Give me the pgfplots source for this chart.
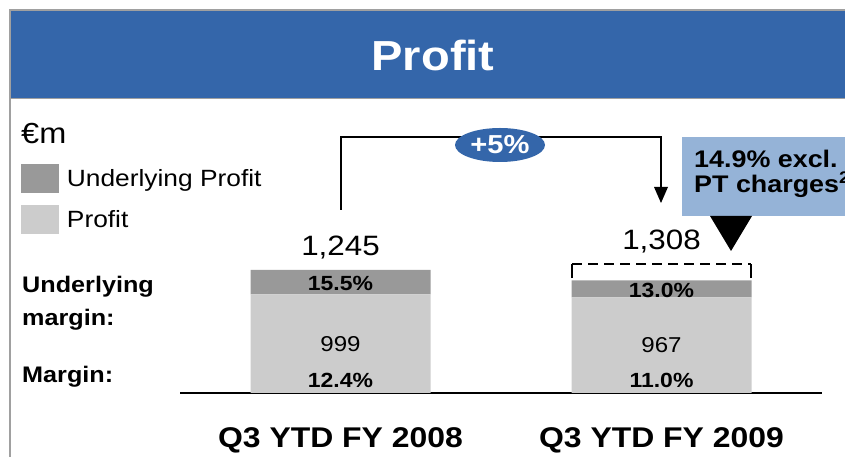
\documentclass[border=0pt]{standalone}
\usepackage{pgfplots}
\pgfplotsset{compat=1.18}
\usepackage{fontspec}
\setmainfont{Liberation Sans}[FakeStretch=1.12]
\usetikzlibrary{arrows.meta}
\definecolor{titleblue}{RGB}{52,102,170}
\definecolor{boxblue}{RGB}{149,179,215}
\definecolor{darkbar}{RGB}{153,153,153}
\definecolor{lightbar}{RGB}{204,204,204}
\definecolor{framegray}{RGB}{160,160,160}
\newcommand{\fs}[1]{\fontsize{#1}{#1}\selectfont}
\begin{document}
\begin{tikzpicture}[x=1pt,y=1pt]
\path[use as bounding box] (0,0) rectangle (845,457);
% frame and title band
\fill[titleblue] (10,358) rectangle (846,446);
\draw[framegray, line width=1pt] (10,358) -- (846,358);
\draw[framegray, line width=2pt] (9.5,0) -- (9.5,447) -- (846,447);
\node[text=white, font=\fs{42}\bfseries, anchor=base] at (433,386) {Profit};
\node[anchor=base west, font=\fs{29}, inner sep=0] at (21,313) {€m};
% left labels
\node[anchor=base west, font=\fs{22.5}\bfseries, inner sep=0] at (22,164) {Underlying};
\node[anchor=base west, font=\fs{22.5}\bfseries, inner sep=0] at (22,131) {margin:};
\node[anchor=base west, font=\fs{22.5}\bfseries, inner sep=0] at (22,74) {Margin:};
\begin{axis}[
  at={(180pt,64pt)}, anchor=south west,
  scale only axis, width=642pt, height=140pt,
  xmin=-0.5, xmax=1.5, ymin=0, ymax=1417,
  clip=false,
  ybar stacked, bar width=180pt,
  axis x line*=bottom, axis y line=none,
  x axis line style={line width=1.5pt, -},
  xtick={0,1}, xticklabels={Q3 YTD FY 2008, Q3 YTD FY 2009},
  major tick length=0pt, ytick=\empty,
  xticklabel style={font=\fs{28.5}\bfseries, anchor=base, yshift=-55pt},
  reverse legend,
  legend style={at={(axis description cs:-0.2477,1.637)}, anchor=north west,
    draw=none, fill=none, font=\fs{23.5}, inner sep=0pt, outer sep=0pt,
    row sep=12pt, nodes={inner sep=0pt},
    /tikz/every odd column/.append style={column sep=8pt}},
  legend cell align=left,
  legend image code/.code={\fill[#1, draw=none] (0pt,-14.5pt) rectangle (38pt,14.5pt);},
]
\addplot[fill=lightbar, draw=none] coordinates {(0,999) (1,967)};
\addlegendentry{Profit}
\addplot[fill=darkbar, draw=none] coordinates {(0,246) (1,174)};
\addlegendentry{Underlying Profit}
% label anchors
\coordinate (tA) at (axis cs:0,1468);
\coordinate (tB) at (axis cs:1,1538);
\coordinate (uA) at (axis cs:0,1110);
\coordinate (uB) at (axis cs:1,1042);
\coordinate (pA) at (axis cs:0,496);
\coordinate (pB) at (axis cs:1,487);
\coordinate (mA) at (axis cs:0,132);
\coordinate (mB) at (axis cs:1,132);
\coordinate (dL) at (axis cs:0.722,1308);
\coordinate (dR) at (axis cs:1.278,1308);
\coordinate (dLb) at (axis cs:0.722,1162);
\coordinate (dRb) at (axis cs:1.278,1162);
\end{axis}
% value labels
\node[font=\fs{28}] at (tA) {1,245};
\node[font=\fs{28}] at (tB) {1,308};
\node[font=\fs{20.5}\bfseries] at (uA) {15.5\%};
\node[font=\fs{20.5}\bfseries] at (uB) {13.0\%};
\node[font=\fs{21.5}] at (pA) {999};
\node[font=\fs{21.5}] at (pB) {967};
\node[font=\fs{20.5}\bfseries] at (mA) {12.4\%};
\node[font=\fs{20.5}\bfseries] at (mB) {11.0\%};
% dashed bracket for 2009 total
\draw[line width=1.6pt, dash pattern=on 10pt off 6pt] (dL) -- (dR);
\draw[line width=1.6pt] (dLb) -- (dL);
\draw[line width=1.6pt] (dRb) -- (dR);
% growth bracket
\draw[line width=1.5pt] (341,247) -- (341,320) -- (661,320) -- (661,262);
\fill (654,270) -- (668,270) -- (661,254) -- cycle;
\fill[titleblue] (500,312) ellipse (45pt and 17pt);
\node[text=white, font=\fs{26}\bfseries] at (500,312) {+5\%};
% callout box
\fill[boxblue] (682,241) rectangle (850,320);
\node[anchor=base west, font=\fs{24}\bfseries, inner sep=0] at (694,289) {14.9\% excl.};
\node[anchor=base west, font=\fs{24}\bfseries, inner sep=0] at (694,264) {PT charges\textsuperscript{2}};
\fill (710,241) -- (752,241) -- (731,206) -- cycle;
\end{tikzpicture}
\end{document}
